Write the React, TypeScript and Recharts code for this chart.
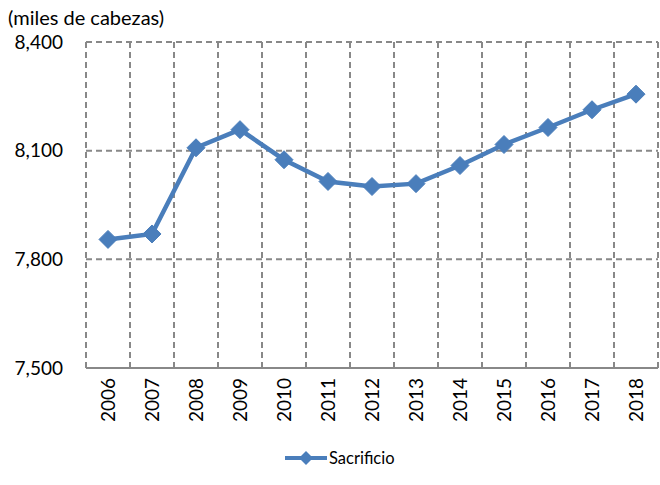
import React from 'react';
import { LineChart, Line, XAxis, YAxis, CartesianGrid, Legend } from 'recharts';

const years = ['2006','2007','2008','2009','2010','2011','2012','2013','2014','2015','2016','2017','2018'];
const sacrificio = [7855, 7870, 8108, 8158, 8075, 8015, 8001, 8009, 8059, 8117, 8164, 8213, 8256];
const yTicks = [7500, 7800, 8100, 8400];
const unit = '(miles de cabezas)';
const seriesName = 'Sacrificio';

const data = years.map((y, i) => ({ year: y, idx: i + 0.5, value: sacrificio[i] }));
const centers = years.map((_, i) => i + 0.5);
const boundaries = years.map((_, i) => i).concat([years.length]);

const BLUE = '#4A7EBB';
const GRID = '#888888';
const FONT = 'Lato, "Liberation Sans", sans-serif';

const Diamond = (props: any) => {
  const { cx, cy } = props;
  if (cx == null || cy == null) return null;
  const r = 9;
  return (
    <polygon
      points={`${cx},${cy - r} ${cx + r},${cy} ${cx},${cy + r} ${cx - r},${cy}`}
      fill={BLUE}
      stroke={BLUE}
      strokeWidth={1}
    />
  );
};

const YearTick = (props: any) => {
  const { x, y, payload } = props;
  const label = years[Math.floor(payload.value)];
  return (
    <text
      x={x}
      y={y}
      dy="0.36em"
      textAnchor="end"
      transform={`rotate(-90, ${x}, ${y})`}
      fontSize={19}
      fontFamily={FONT}
      fill="#000"
    >
      {label}
    </text>
  );
};

const LegendContent = () => (
  <div style={{ height: 30, display: 'flex', alignItems: 'center', paddingLeft: 285, fontFamily: FONT, fontSize: 16.5, color: '#000' }}>
    <svg width={42} height={20} style={{ marginRight: 2 }}>
      <line x1={0} y1={10} x2={42} y2={10} stroke={BLUE} strokeWidth={4} />
      <polygon points="21,3 28,10 21,17 14,10" fill={BLUE} />
    </svg>
    <span>{seriesName}</span>
  </div>
);

export default function App() {
  return (
    <div style={{ position: 'absolute', left: 0, top: 0, width: 660, height: 485, background: '#fff' }}>
      <div style={{ position: 'absolute', left: 8, top: 5, fontFamily: FONT, fontSize: 20, color: '#000', zIndex: 2 }}>{unit}</div>
      <LineChart width={660} height={485} data={data} margin={{ top: 42, right: 2, left: 0, bottom: 12 }}>
        <CartesianGrid
          stroke={GRID}
          strokeWidth={2}
          strokeDasharray="6 4"
          verticalCoordinatesGenerator={({ offset }: any) =>
            boundaries.map((b) => offset.left + (b * offset.width) / years.length)
          }
        />
        <XAxis
          xAxisId="b"
          type="number"
          dataKey="idx"
          domain={[0, years.length]}
          ticks={centers}
          interval={0}
          axisLine={false}
          tickLine={false}
          tickSize={0}
          tickMargin={5}
          height={70}
          tick={<YearTick />}
        />
        <XAxis
          xAxisId="a"
          type="number"
          dataKey="idx"
          domain={[0, years.length]}
          ticks={boundaries}
          interval={0}
          tick={false}
          height={5}
          axisLine={{ stroke: GRID, strokeWidth: 2 }}
          tickLine={{ stroke: GRID, strokeWidth: 1 }}
          tickSize={5}
        />
        <YAxis
          domain={[7500, 8400]}
          ticks={yTicks}
          width={86}
          axisLine={false}
          tickLine={false}
          tickSize={0}
          tickMargin={23}
          tick={{ fontSize: 19, fontFamily: FONT, fill: '#000' }}
          tickFormatter={(v: number) => v.toLocaleString('en-US')}
        />
        <Legend verticalAlign="bottom" content={<LegendContent />} />
        <Line
          xAxisId="a"
          type="linear"
          dataKey="value"
          name={seriesName}
          stroke={BLUE}
          strokeWidth={4.5}
          dot={<Diamond />}
          activeDot={false}
          isAnimationActive={false}
        />
      </LineChart>
    </div>
  );
}
